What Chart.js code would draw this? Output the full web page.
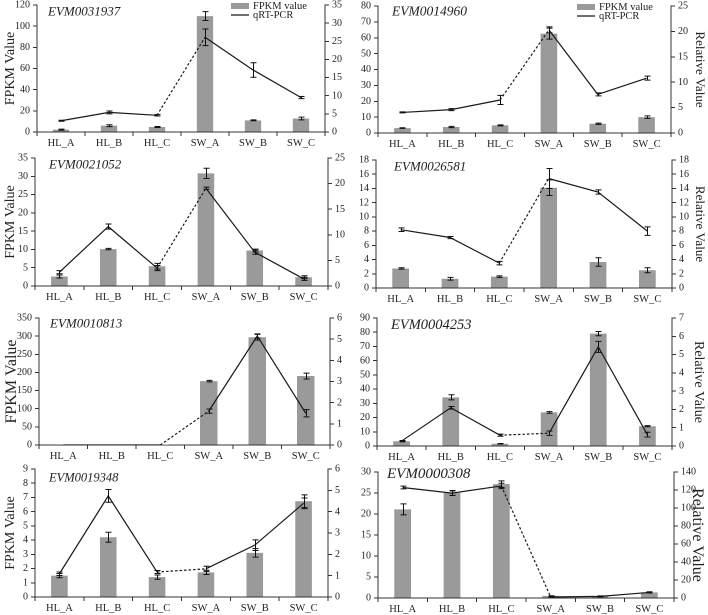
<!DOCTYPE html>
<html><head><meta charset="utf-8">
<script src="https://cdn.jsdelivr.net/npm/chart.js@4.4.1/dist/chart.umd.min.js"></script>
<style>
html,body{margin:0;padding:0;background:#fff;overflow:hidden;width:708px;height:615px;position:relative}
canvas{position:absolute}
</style></head><body>
<script>
// ---------- DATA ----------
const categories = ['HL_A','HL_B','HL_C','SW_A','SW_B','SW_C'];
const genes = ['EVM0031937','EVM0014960','EVM0021052','EVM0026581','EVM0010813','EVM0004253','EVM0019348','EVM0000308'];

const fpkm1 = [2.2, 6.0, 4.7, 109.5, 11.0, 12.8];
const fpkmErr1 = [0.5, 0.9, 0.5, 4.2, 0.4, 1.3];
const qpcr1 = [3.1, 5.4, 4.6, 26.1, 17.1, 9.5];
const qpcrErr1 = [0.15, 0.4, 0.2, 2.3, 2.0, 0.3];

const fpkm2 = [3.1, 3.8, 4.8, 62.6, 5.8, 10.0];
const fpkmErr2 = [0.2, 0.4, 0.3, 3.5, 0.4, 0.8];
const qpcr2 = [4.05, 4.6, 6.5, 20.3, 7.6, 10.8];
const qpcrErr2 = [0.1, 0.2, 0.9, 0.6, 0.3, 0.4];

const fpkm3 = [2.6, 10.1, 5.4, 30.8, 9.7, 2.4];
const fpkmErr3 = [0.4, 0.2, 0.8, 1.4, 0.4, 0.4];
const qpcr3 = [2.7, 11.6, 3.5, 19.1, 6.6, 1.4];
const qpcrErr3 = [0.3, 0.5, 0.5, 0.2, 0.4, 0.3];

const fpkm4 = [2.75, 1.3, 1.6, 14.1, 3.65, 2.5];
const fpkmErr4 = [0.1, 0.2, 0.1, 1.1, 0.6, 0.35];
const qpcr4 = [8.2, 7.1, 3.5, 15.4, 13.5, 8.0];
const qpcrErr4 = [0.25, 0.15, 0.25, 1.4, 0.3, 0.6];

const fpkm5 = [1.0, 0.5, 0.3, 176, 297, 190];
const fpkmErr5 = [0, 0, 0, 2, 8, 8];
const qpcr5 = [0, 0, 0, 1.6, 5.15, 1.5];
const qpcrErr5 = [0, 0, 0, 0.1, 0.1, 0.17];

const fpkm6 = [3.3, 34.2, 1.6, 23.6, 79.0, 13.9];
const fpkmErr6 = [0.3, 1.8, 0.2, 0.6, 1.5, 0.4];
const qpcr6 = [0.27, 2.09, 0.59, 0.70, 5.42, 0.62];
const qpcrErr6 = [0.03, 0.07, 0.06, 0.12, 0.3, 0.13];

const fpkm7 = [1.5, 4.2, 1.4, 1.73, 3.1, 6.73];
const fpkmErr7 = [0.15, 0.35, 0.15, 0.15, 0.3, 0.45];
const qpcr7 = [1.09, 4.74, 1.17, 1.32, 2.43, 4.39];
const qpcrErr7 = [0.08, 0.3, 0.07, 0.12, 0.25, 0.25];

const fpkm8 = [21.1, 25.0, 27.1, 0.5, 0.4, 1.35];
const fpkmErr8 = [1.3, 0.6, 0.8, 0.05, 0.05, 0.1];
const qpcr8 = [122.8, 116.5, 124.5, 1.1, 1.8, 6.2];
const qpcrErr8 = [1.5, 2.5, 3.0, 0.3, 0.6, 0.6];

const leftMax = [120, 80, 35, 18, 350, 90, 9, 30];
const leftStep = [20, 10, 5, 2, 50, 10, 1, 5];
const rightMax = [35, 25, 25, 18, 6, 7, 6, 140];
const rightStep = [5, 5, 5, 2, 1, 1, 1, 20];

const fpkmSets = [fpkm1, fpkm2, fpkm3, fpkm4, fpkm5, fpkm6, fpkm7, fpkm8];
const fpkmErrSets = [fpkmErr1, fpkmErr2, fpkmErr3, fpkmErr4, fpkmErr5, fpkmErr6, fpkmErr7, fpkmErr8];
const qpcrSets = [qpcr1, qpcr2, qpcr3, qpcr4, qpcr5, qpcr6, qpcr7, qpcr8];
const qpcrErrSets = [qpcrErr1, qpcrErr2, qpcrErr3, qpcrErr4, qpcrErr5, qpcrErr6, qpcrErr7, qpcrErr8];

// ---------- LAYOUT (plot areas in page pixels) ----------
const boxes = [
  {col:0, L:37,  R:325, T:5,   B:132, title:14, gene:13,   gdx:11, gdy:7, bar:0.34, legend:true},
  {col:1, L:378, R:671, T:6,   B:133, title:13, gene:13.5, gdx:14, gdy:6, bar:0.34, legend:true},
  {col:0, L:35,  R:328, T:158, B:286, title:14, gene:13,   gdx:14, gdy:7, bar:0.34},
  {col:1, L:376, R:672, T:160, B:288, title:13, gene:13,   gdx:18, gdy:7, bar:0.34},
  {col:0, L:39,  R:330, T:318, B:445, title:16, gene:13,   gdx:11, gdy:6, bar:0.36},
  {col:1, L:377, R:672, T:318, B:446, title:14, gene:14.5, gdx:14, gdy:7, bar:0.34},
  {col:0, L:35,  R:328, T:469, B:597, title:14, gene:12.5, gdx:14, gdy:9, bar:0.34},
  {col:1, L:378, R:674, T:472, B:598, title:16, gene:15,   gdx:9,  gdy:2, bar:0.34}
];

const FONT = '"Liberation Serif", "Times New Roman", serif';
const AX = '#333';
const TX = '#222';
const BARC = '#9a9a9a';
const LINEC = '#1a1a1a';

const annotPlugin = {
  id: 'annot',
  afterDatasetsDraw(chart) {
    const ctx = chart.ctx;
    chart.data.datasets.forEach((ds, di) => {
      const meta = chart.getDatasetMeta(di);
      const sc = chart.scales[ds.yAxisID];
      ctx.save();
      ctx.strokeStyle = '#111';
      ctx.lineWidth = 1;
      ds.data.forEach((v, k) => {
        const e = ds.errors[k];
        if (!e) return;
        const x = Math.round(meta.data[k].x) + 0.5;
        const yt = sc.getPixelForValue(v + e);
        const yb = sc.getPixelForValue(Math.max(v - e, 0));
        ctx.beginPath();
        ctx.moveTo(x, yt); ctx.lineTo(x, yb);
        ctx.moveTo(x - 3, yt); ctx.lineTo(x + 3, yt);
        ctx.moveTo(x - 3, yb); ctx.lineTo(x + 3, yb);
        ctx.stroke();
      });
      ctx.restore();
    });
  },
  afterDraw(chart, args, opts) {
    const ctx = chart.ctx;
    const a = chart.chartArea;
    ctx.save();
    ctx.fillStyle = TX;
    ctx.font = 'italic ' + opts.size + 'px ' + FONT;
    ctx.textBaseline = 'middle';
    ctx.textAlign = 'left';
    ctx.fillText(opts.gene, a.left + opts.dx, a.top + opts.dy);
    if (opts.legend) {
      const bx = a.right - 94;
      ctx.fillStyle = BARC;
      ctx.fillRect(bx, a.top - 2, 18, 6);
      ctx.strokeStyle = LINEC;
      ctx.lineWidth = 1.2;
      ctx.beginPath();
      ctx.moveTo(bx, a.top + 10); ctx.lineTo(bx + 18, a.top + 10);
      ctx.stroke();
      ctx.fillStyle = TX;
      ctx.font = '10.5px ' + FONT;
      ctx.fillText(chart.data.datasets[1].label, bx + 22, a.top + 1);
      ctx.fillText(chart.data.datasets[0].label, bx + 22, a.top + 10);
    }
    ctx.restore();
  }
};

function makeChart(i) {
  const g = boxes[i];
  const colL = g.col === 0 ? 0 : 354;
  const colR = colL + 354;
  const padTop = 14, xH = 22;
  const cTop = g.T - padTop;
  const H = g.B + xH - cTop;
  const cv = document.createElement('canvas');
  cv.width = 354; cv.height = H;
  cv.style.left = colL + 'px'; cv.style.top = cTop + 'px';
  cv.style.width = '354px'; cv.style.height = H + 'px';
  document.body.appendChild(cv);
  const leftW = g.L - colL, rightW = colR - g.R;

  new Chart(cv, {
    data: {
      labels: categories,
      datasets: [
        {
          type: 'line', label: 'qRT-PCR', data: qpcrSets[i], errors: qpcrErrSets[i],
          yAxisID: 'y1', borderColor: LINEC, borderWidth: 1.2, pointRadius: 0, tension: 0,
          fill: false,
          segment: { borderDash: c => c.p0DataIndex === 2 ? [2.5, 2] : undefined }
        },
        {
          type: 'bar', label: 'FPKM value', data: fpkmSets[i], errors: fpkmErrSets[i],
          yAxisID: 'y', backgroundColor: BARC, borderWidth: 0,
          barPercentage: g.bar, categoryPercentage: 1
        }
      ]
    },
    options: {
      responsive: false, animation: false, devicePixelRatio: 2,
      layout: { padding: { top: padTop, left: 0, right: 0, bottom: 0 } },
      plugins: {
        legend: { display: false }, tooltip: { enabled: false },
        annot: { gene: genes[i], size: g.gene, dx: g.gdx, dy: g.gdy, legend: !!g.legend }
      },
      scales: {
        x: {
          type: 'category', offset: true,
          grid: { offset: true, drawOnChartArea: false, drawTicks: true, tickLength: 4, color: AX },
          border: { color: AX, width: 1 },
          ticks: { color: TX, font: { family: FONT, size: 10.5 }, padding: 1, maxRotation: 0, autoSkip: false },
          afterFit: s => { s.height = xH; }
        },
        y: {
          position: 'left', min: 0, max: leftMax[i],
          ticks: { stepSize: leftStep[i], autoSkip: false, color: TX, font: { family: FONT, size: 10 }, padding: 3 },
          grid: { drawOnChartArea: false, tickLength: 4, color: AX },
          border: { color: AX, width: 1 },
          title: { display: g.col === 0, text: 'FPKM Value', color: TX, font: { family: FONT, size: g.title }, padding: { top: 2, bottom: 0 } },
          afterFit: s => { s.width = leftW; }
        },
        y1: {
          position: 'right', min: 0, max: rightMax[i],
          ticks: { stepSize: rightStep[i], autoSkip: false, color: TX, font: { family: FONT, size: 10 }, padding: 3 },
          grid: { drawOnChartArea: false, tickLength: 4, color: AX },
          border: { color: AX, width: 1 },
          title: { display: g.col === 1, text: 'Relative Value', color: TX, font: { family: FONT, size: g.title }, padding: { top: 1, bottom: 0 } },
          afterFit: s => { s.width = rightW; }
        }
      }
    },
    plugins: [annotPlugin]
  });
}

for (let i = 0; i < 8; i++) makeChart(i);
</script>
</body></html>
